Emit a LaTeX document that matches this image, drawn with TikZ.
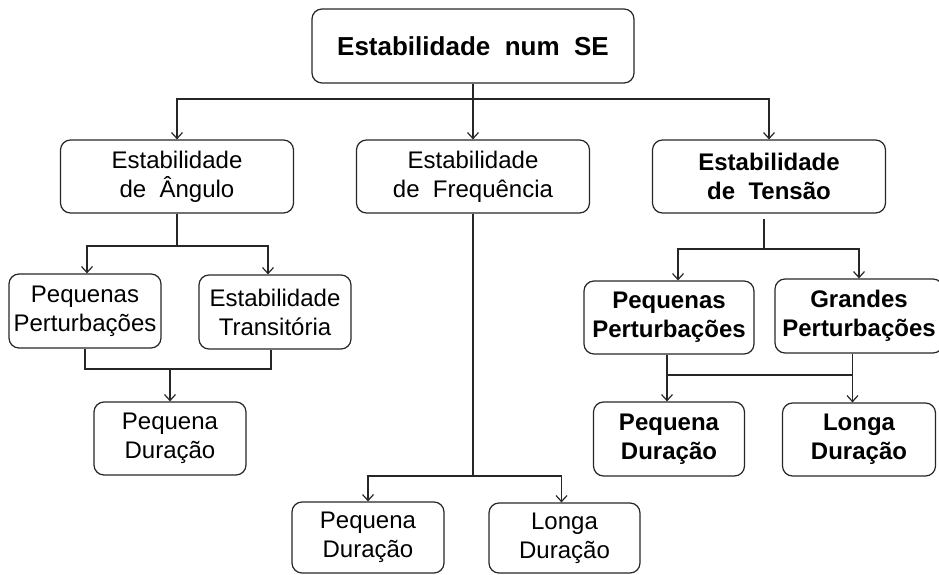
\documentclass[tikz,border=0pt]{standalone}
\usepackage{fontspec}
\setmainfont{Liberation Sans}
\usepackage{tikz}
\usetikzlibrary{arrows.meta}
\tikzset{>={Straight Barb[length=6pt,width=11pt]}}
\tikzset{
  caixa/.style={draw=black!85, line width=1.2pt, rounded corners=10pt, inner sep=0pt, align=center, font=\fontsize{24}{29}\selectfont},
  caixaB/.style={caixa, font=\fontsize{24}{29}\selectfont\bfseries},
  liga/.style={line width=1.2pt, draw=black!85}
}

\begin{document}
\begin{tikzpicture}[x=1pt, y=-1pt]
            \useasboundingbox (0, 0) rectangle (939, 575);

            \node [caixa, font=\fontsize{26}{30}\selectfont\bfseries, minimum width=322, minimum height=74] (topo) at (473, 46) {Estabilidade\ \ num\ \ SE};

            \node [caixa, minimum width=233, minimum height=73] (angulo) at (177, 176.5) {Estabilidade\\de\ \ Ângulo};
            \node [caixa, minimum width=233, minimum height=73] (freq) at (473, 176.5) {Estabilidade\\de\ \ Frequência};
            \node [caixaB, minimum width=233, minimum height=73] (tensao) at (769, 176.5) {Estabilidade\\de\ \ Tensão};

            \node [caixa, minimum width=152, minimum height=74] (ppA) at (85, 311) {Pequenas\\Perturbações};
            \node [caixa, minimum width=152, minimum height=74] (etA) at (275, 312) {Estabilidade\\Transitória};
            \node [caixa, minimum width=152, minimum height=73] (pdA) at (170, 438.5) {Pequena\\Duração};

            \node [caixa, minimum width=152, minimum height=71] (pdF) at (368, 537.5) {Pequena\\Duração};
            \node [caixa, minimum width=151, minimum height=70] (ldF) at (564.5, 538) {Longa\\Duração};

            \node [caixaB, minimum width=170, minimum height=73] (ppT) at (669, 317.5) {Pequenas\\Perturbações};
            \node [caixaB, minimum width=168, minimum height=74] (gpT) at (859, 316) {Grandes\\Perturbações};
            \node [caixaB, minimum width=151, minimum height=74] (pdT) at (669, 439) {Pequena\\Duração};
            \node [caixaB, minimum width=153, minimum height=73] (ldT) at (859, 439.5) {Longa\\Duração};

            \coordinate (topoJ) at (473, 99);
            \coordinate (anguloJ) at (177, 246);
            \coordinate (anguloK) at (170, 369);
            \coordinate (freqJ) at (473, 476);
            \coordinate (tensaoJ) at (764, 249);
            \coordinate (tensaoK) at (667, 375);

            \draw [liga] (topo.south) -- (topoJ);
            \draw [liga, ->] (topoJ) -| (angulo.north);
            \draw [liga, ->] (topoJ) -- (freq.north);
            \draw [liga, ->] (topoJ) -| (tensao.north);

            \draw [liga] (angulo.south) -- (anguloJ);
            \draw [liga, ->] (anguloJ) -| ([xshift=2]ppA.north);
            \draw [liga, ->] (anguloJ) -| ([xshift=-7]etA.north);
            \draw [liga] (ppA.south) |- (anguloK) -| ([xshift=-4]etA.south);
            \draw [liga, ->] (anguloK) -- (pdA.north);

            \draw [liga] (freq.south) -- (freqJ);
            \draw [liga, ->] (freqJ) -| (pdF.north);
            \draw [liga, ->] (freqJ) -| ([xshift=-3]ldF.north);

            \draw [liga] ([shift={(-5, 5)}]tensao.south) -- (tensaoJ);
            \draw [liga, ->] (tensaoJ) -| ([xshift=9]ppT.north);
            \draw [liga, ->] (tensaoJ) -| (gpT.north);
            \draw [liga, ->] ([xshift=-2]ppT.south) -- ([xshift=-2]pdT.north);
            \draw [liga, ->] ([xshift=-6.5]gpT.south) -- ([xshift=-6.5]ldT.north);
            \draw [liga] (tensaoK) -- ([xshift=-6.5]ldT.north |- tensaoK);
        \end{tikzpicture}
\end{document}
